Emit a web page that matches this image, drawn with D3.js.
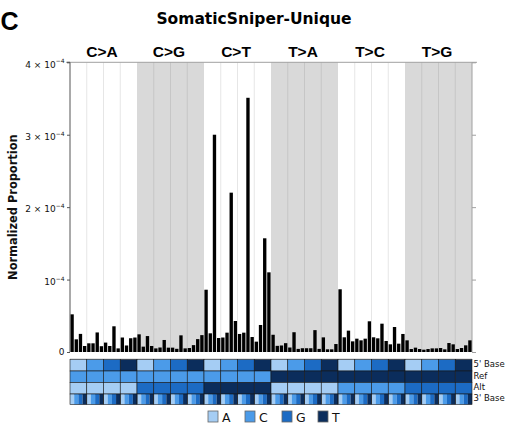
<!DOCTYPE html>
<html>
<head>
<meta charset="utf-8">
<script src="https://cdn.jsdelivr.net/npm/d3@7"></script>
<style>
  html, body { margin: 0; padding: 0; background: #fff; }
  svg { display: block; font-family: "DejaVu Sans", sans-serif; }
</style>
</head>
<body>
<svg id="chart" width="506" height="424"></svg>
<script>
// Trinucleotide substitution profile: 6 substitution types x (5' base x 3' base)
const mutationTypes = ["C>A", "C>G", "C>T", "T>A", "T>C", "T>G"];
const bases = ["A", "C", "G", "T"];
const rowLabels = ["5' Base", "Ref", "Alt", "3' Base"];

// Normalized proportions, 16 contexts per substitution type
// (ordered 5' base A,C,G,T, each with 3' base A,C,G,T)
const caValues = [5.2e-5, 1.75e-5, 2.5e-5, 0.83e-5, 1.2e-5, 1.2e-5, 2.7e-5, 0.8e-5, 1.3e-5, 0.83e-5, 3.55e-5, 0.5e-5, 2.0e-5, 0.9e-5, 1.9e-5, 2.0e-5];
const cgValues = [2.44e-5, 0.74e-5, 2.2e-5, 0.83e-5, 0.5e-5, 0.62e-5, 1.66e-5, 0.6e-5, 0.6e-5, 0.44e-5, 2.3e-5, 0.5e-5, 0.55e-5, 0.95e-5, 1.78e-5, 2.33e-5];
const ctValues = [8.6e-5, 2.58e-5, 3.0e-4, 1.93e-5, 2.0e-5, 2.67e-5, 2.2e-4, 4.28e-5, 2.49e-5, 2.67e-5, 3.51e-4, 2.07e-5, 1.43e-5, 3.73e-5, 1.57e-4, 1.1e-4];
const taValues = [2.38e-5, 0.85e-5, 0.9e-5, 1.22e-5, 0.62e-5, 2.73e-5, 0.43e-5, 0.52e-5, 0.52e-5, 0.52e-5, 3.02e-5, 0.43e-5, 2.02e-5, 0.37e-5, 0.37e-5, 1.1e-5];
const tcValues = [8.66e-5, 2.03e-5, 2.95e-5, 1.47e-5, 1.84e-5, 1.61e-5, 1.84e-5, 4.24e-5, 2.03e-5, 1.89e-5, 3.91e-5, 1.52e-5, 1.06e-5, 3.45e-5, 1.15e-5, 2.49e-5];
const tgValues = [1.61e-5, 0.41e-5, 0.6e-5, 0.41e-5, 0.32e-5, 0.41e-5, 0.5e-5, 0.5e-5, 0.55e-5, 0.37e-5, 1.24e-5, 1.06e-5, 0.41e-5, 0.55e-5, 0.92e-5, 1.61e-5];

const yTickValues = [0, 1e-4, 2e-4, 3e-4, 4e-4];
const yTickMantissas = ["0", "", "2 \u00d7 ", "3 \u00d7 ", "4 \u00d7 "];

const baseColors = { A: "#a5cdf4", C: "#4b9be9", G: "#1c6bc4", T: "#0b2d5c" };

// Flatten into one record per context
const groups = [caValues, cgValues, ctValues, taValues, tcValues, tgValues];
const records = [];
groups.forEach((vals, g) => {
  const type = mutationTypes[g];
  vals.forEach((v, k) => {
    records.push({
      index: g * 16 + k,
      type,
      ref: type[0],
      alt: type[2],
      five: bases[Math.floor(k / 4)],
      three: bases[k % 4],
      value: v
    });
  });
});

const svg = d3.select("#chart");
const plotLeft = 70, plotRight = 472, plotTop = 62.3, plotBottom = 352;

const x = d3.scaleBand().domain(d3.range(96)).range([plotLeft, plotRight]).paddingInner(0.2).paddingOuter(0.1);
const xCell = d3.scaleBand().domain(d3.range(96)).range([plotLeft, plotRight]).padding(0);
const step = xCell.step();
const xGroup = d3.scaleBand().domain(mutationTypes).range([plotLeft, plotRight]).padding(0);
const y = d3.scaleLinear().domain([0, 4e-4]).range([plotBottom, plotTop]);

// Group backgrounds
svg.append("g").selectAll("rect")
  .data(mutationTypes)
  .join("rect")
  .attr("x", d => xGroup(d))
  .attr("y", plotTop)
  .attr("width", xGroup.bandwidth())
  .attr("height", plotBottom - plotTop)
  .attr("fill", (d, i) => i % 2 === 1 ? "#d9d9d9" : "#ffffff");

// Separators between 5' base blocks inside each group
const blockStarts = d3.range(0, 96, 4).filter(i => i % 16 !== 0);
svg.append("g").selectAll("line")
  .data(blockStarts)
  .join("line")
  .attr("x1", d => xCell(d)).attr("x2", d => xCell(d))
  .attr("y1", plotTop).attr("y2", plotBottom)
  .attr("stroke", d => Math.floor(d / 16) % 2 === 1 ? "#c6c6c6" : "#e6e6e6")
  .attr("stroke-width", 1);

// Frame
svg.append("line").attr("x1", 66).attr("x2", 477).attr("y1", plotTop).attr("y2", plotTop)
  .attr("stroke", "#a0a0a0").attr("stroke-width", 1);
svg.append("line").attr("x1", plotRight).attr("x2", plotRight).attr("y1", plotTop).attr("y2", plotBottom)
  .attr("stroke", "#a0a0a0").attr("stroke-width", 1);
svg.append("line").attr("x1", plotLeft).attr("x2", plotRight).attr("y1", 358.5).attr("y2", 358.5)
  .attr("stroke", "#e2e2e2").attr("stroke-width", 1);

// Bars
svg.append("g").selectAll("rect")
  .data(records)
  .join("rect")
  .attr("x", d => x(d.index))
  .attr("y", d => y(d.value))
  .attr("width", x.bandwidth())
  .attr("height", d => y(0) - y(d.value))
  .attr("fill", "#000");

// Left axis
const yAxis = svg.append("g").attr("transform", `translate(${plotLeft},0)`)
  .call(d3.axisLeft(y).tickValues(yTickValues).tickSize(3).tickFormat(""));
yAxis.select(".domain").attr("stroke", "#555").attr("d", `M-3,${plotTop}H0V${plotBottom}`);
yAxis.selectAll(".tick line").attr("stroke", "#555");

// Right ticks
svg.append("g").attr("transform", `translate(${plotRight},0)`)
  .call(d3.axisRight(y).tickValues(yTickValues).tickSize(4).tickFormat(""))
  .call(g => g.select(".domain").remove())
  .selectAll(".tick line").attr("stroke", "#a0a0a0");

// Tick labels with superscript exponent
const tickLabels = svg.append("g").selectAll("text")
  .data(yTickValues)
  .join("text")
  .attr("x", 64.5)
  .attr("y", (d, i) => i === 0 ? y(d) + 3.3 : y(d) + 5.3)
  .attr("text-anchor", "end")
  .attr("font-size", 9)
  .attr("fill", "#111");
tickLabels.each(function (d, i) {
  const t = d3.select(this);
  if (i === 0) { t.text("0"); return; }
  t.append("tspan").text(yTickMantissas[i] + "10");
  t.append("tspan").attr("dy", -4.2).attr("font-size", 6).text("\u22124");
});

// Axis title
svg.append("text")
  .attr("transform", `translate(16.5,${(plotTop + plotBottom) / 2}) rotate(-90)`)
  .attr("text-anchor", "middle")
  .attr("font-weight", "bold")
  .attr("font-size", 11.4)
  .attr("fill", "#111")
  .text("Normalized Proportion");

// Substitution type labels
svg.append("g").selectAll("text")
  .data(mutationTypes)
  .join("text")
  .attr("x", d => xGroup(d) + xGroup.bandwidth() / 2 - 1.5)
  .attr("y", 57.3)
  .attr("text-anchor", "middle")
  .attr("font-family", "'Liberation Sans', Arial, sans-serif")
  .attr("font-weight", "bold")
  .attr("font-size", 15.5)
  .attr("fill", "#000")
  .text(d => d);

// Titles
svg.append("text")
  .attr("x", 254).attr("y", 23.5)
  .attr("text-anchor", "middle")
  .attr("font-weight", "bold")
  .attr("font-size", 15.5)
  .text("SomaticSniper-Unique");
svg.append("text")
  .attr("x", 0.5).attr("y", 29.5)
  .attr("font-family", "'Liberation Sans', Arial, sans-serif")
  .attr("font-weight", "bold")
  .attr("font-size", 25)
  .text("C");

// Context heatmap
const rowTop = [359.5, 371, 382.5, 394];
const rowH = [11.5, 11.5, 11.5, 10.5];
const blocks = d3.range(0, 96, 4).map(i => records[i]);
const rowKeys = ["five", "ref", "alt"];
const heat = svg.append("g");
rowKeys.forEach((key, r) => {
  heat.append("g").selectAll("rect")
    .data(blocks)
    .join("rect")
    .attr("x", d => xCell(d.index))
    .attr("y", rowTop[r])
    .attr("width", step * 4)
    .attr("height", rowH[r])
    .attr("fill", d => baseColors[d[key]])
    .attr("stroke", "#1a1a1a")
    .attr("stroke-width", 0.6);
});
heat.append("g").selectAll("rect")
  .data(records)
  .join("rect")
  .attr("x", d => xCell(d.index))
  .attr("y", rowTop[3])
  .attr("width", step + 0.05)
  .attr("height", rowH[3])
  .attr("fill", d => baseColors[d.three]);
heat.append("g").selectAll("rect")
  .data(blocks)
  .join("rect")
  .attr("x", d => xCell(d.index))
  .attr("y", rowTop[3])
  .attr("width", step * 4)
  .attr("height", rowH[3])
  .attr("fill", "none")
  .attr("stroke", "#1a1a1a")
  .attr("stroke-width", 0.6);

// Row labels
svg.append("g").selectAll("text")
  .data(rowLabels)
  .join("text")
  .attr("x", 473.5)
  .attr("y", (d, i) => rowTop[i] + rowH[i] / 2 + 2.2)
  .attr("font-size", 8.5)
  .attr("fill", "#111")
  .text(d => d);

// Legend
const legendX = [208, 245, 282, 318];
const legend = svg.append("g").selectAll("g")
  .data(bases)
  .join("g")
  .attr("transform", (d, i) => `translate(${legendX[i]},411)`);
legend.append("rect")
  .attr("width", 10).attr("height", 11)
  .attr("fill", d => baseColors[d])
  .attr("stroke", "#666").attr("stroke-width", 0.8);
legend.append("text")
  .attr("x", 14).attr("y", 11)
  .attr("font-size", 12.5)
  .attr("fill", "#111")
  .text(d => d);
</script>
</body>
</html>
